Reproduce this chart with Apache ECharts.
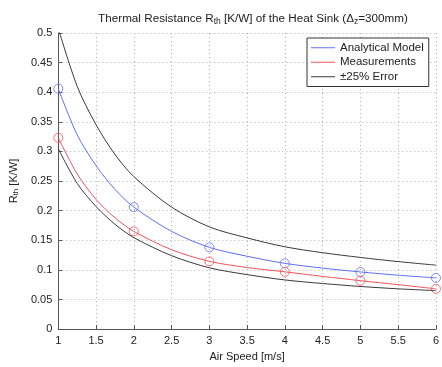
<!DOCTYPE html>
<html><head><meta charset="utf-8">
<script src="https://cdn.jsdelivr.net/npm/echarts@6/dist/echarts.min.js"></script>
<style>html,body{margin:0;padding:0;background:#fff}#c{width:442px;height:367px}</style>
</head><body><div id="c"></div>
<script>
// Curve sample points (air speed, m/s)
const curveX = [1, 1.25, 1.5, 1.75, 2, 2.5, 3, 3.5, 4, 4.5, 5, 5.5, 6];
const analyticalCurve = [0.406, 0.328, 0.276, 0.236, 0.206, 0.165, 0.138, 0.123, 0.111, 0.103, 0.0965, 0.091, 0.0865];
const measurementCurve = [0.323, 0.262, 0.219, 0.188, 0.165, 0.134, 0.1144, 0.104, 0.0967, 0.089, 0.0818, 0.075, 0.068];
const upperErrorCurve = [0.5075, 0.41, 0.345, 0.295, 0.2575, 0.206, 0.1725, 0.154, 0.139, 0.129, 0.121, 0.114, 0.108];
const lowerErrorCurve = [0.3045, 0.246, 0.207, 0.177, 0.1545, 0.124, 0.1035, 0.092, 0.083, 0.077, 0.072, 0.068, 0.065];
// Marker points
const markerX = [1, 2, 3, 4, 5, 6];
const analyticalPts = [0.406, 0.206, 0.138, 0.111, 0.0965, 0.0865];
const measurementPts = [0.323, 0.165, 0.1144, 0.0967, 0.0818, 0.068];

const seriesNames = ['Analytical Model', 'Measurements', '\u00B125% Error'];
const pair = (xs, ys) => xs.map((x, i) => [x, ys[i]]);

const FONT = 'Liberation Sans, Arial, Helvetica, sans-serif';
const TXT = '#222';
const BLUE = '#5f6ff5', RED = '#f2535b', GREY = '#3a3a3a';

const chart = echarts.init(document.getElementById('c'), null, {renderer: 'canvas'});
chart.setOption({
  animation: false,
  backgroundColor: '#fff',
  textStyle: {fontFamily: FONT},
  title: {
    text: 'Thermal Resistance R{sub|th} [K/W] of the Heat Sink (\u0394{sub|z}=300mm)',
    left: 248, top: 7, textAlign: 'center',
    textStyle: {fontFamily: FONT, fontSize: 11.7, fontWeight: 'normal', color: TXT,
      rich: {sub: {fontFamily: FONT, fontSize: 8.5, color: TXT, verticalAlign: 'bottom', padding: [5, 0, 0, 0]}}}
  },
  grid: {left: 57, right: 6, top: 33, bottom: 32},
  legend: {
    orient: 'vertical', left: 307, top: 38,
    data: seriesNames,
    icon: 'rect',
    itemWidth: 24, itemHeight: 1, itemGap: 1,
    backgroundColor: '#fff', borderColor: '#333', borderWidth: 1,
    padding: [3, 5, 3, 4],
    textStyle: {fontFamily: FONT, fontSize: 11.5, color: TXT, lineHeight: 13.5}
  },
  xAxis: {
    type: 'value', min: 1, max: 6, interval: 0.5,
    name: 'Air Speed [m/s]', nameLocation: 'middle', nameGap: 21,
    nameTextStyle: {fontFamily: FONT, fontSize: 11, color: TXT},
    axisLine: {lineStyle: {color: '#555', width: 1}},
    axisTick: {inside: true, length: 4, lineStyle: {color: '#555'}},
    axisLabel: {fontFamily: FONT, fontSize: 11, color: TXT, margin: 6},
    splitLine: {show: true, lineStyle: {color: '#b0b0b0', type: [1, 3], width: 1}}
  },
  yAxis: {
    type: 'value', min: 0, max: 0.5, interval: 0.05,
    name: 'R{sub|th} [K/W]', nameLocation: 'middle', nameGap: 38, nameRotate: 90,
    nameTextStyle: {fontFamily: FONT, fontSize: 11, color: TXT,
      rich: {sub: {fontFamily: FONT, fontSize: 8, color: TXT, verticalAlign: 'bottom', padding: [5, 0, 0, 0]}}},
    axisLine: {show: true, lineStyle: {color: '#555', width: 1}},
    axisTick: {show: true, inside: true, length: 4, lineStyle: {color: '#555'}},
    axisLabel: {fontFamily: FONT, fontSize: 11, color: TXT, margin: 6},
    splitLine: {show: true, lineStyle: {color: '#b0b0b0', type: [1, 3], width: 1}}
  },
  series: [
    {name: seriesNames[0], type: 'line', smooth: 0.3, symbol: 'none', clip: true,
     data: pair(curveX, analyticalCurve), lineStyle: {color: BLUE, width: 1}, itemStyle: {color: BLUE}},
    {name: seriesNames[1], type: 'line', smooth: 0.3, symbol: 'none', clip: true,
     data: pair(curveX, measurementCurve), lineStyle: {color: RED, width: 1}, itemStyle: {color: RED}},
    {name: seriesNames[2], type: 'line', smooth: 0.3, symbol: 'none', clip: true,
     data: pair(curveX, upperErrorCurve), lineStyle: {color: GREY, width: 1}, itemStyle: {color: GREY}},
    {name: seriesNames[2], type: 'line', smooth: 0.3, symbol: 'none', clip: true,
     data: pair(curveX, lowerErrorCurve), lineStyle: {color: GREY, width: 1}, itemStyle: {color: GREY}},
    {name: 'am', type: 'scatter', symbol: 'circle', symbolSize: 9, clip: false,
     data: pair(markerX, analyticalPts), itemStyle: {color: 'rgba(0,0,0,0)', borderColor: BLUE, borderWidth: 1}},
    {name: 'ms', type: 'scatter', symbol: 'circle', symbolSize: 9, clip: false,
     data: pair(markerX, measurementPts), itemStyle: {color: 'rgba(0,0,0,0)', borderColor: RED, borderWidth: 1}}
  ]
});
</script></body></html>
